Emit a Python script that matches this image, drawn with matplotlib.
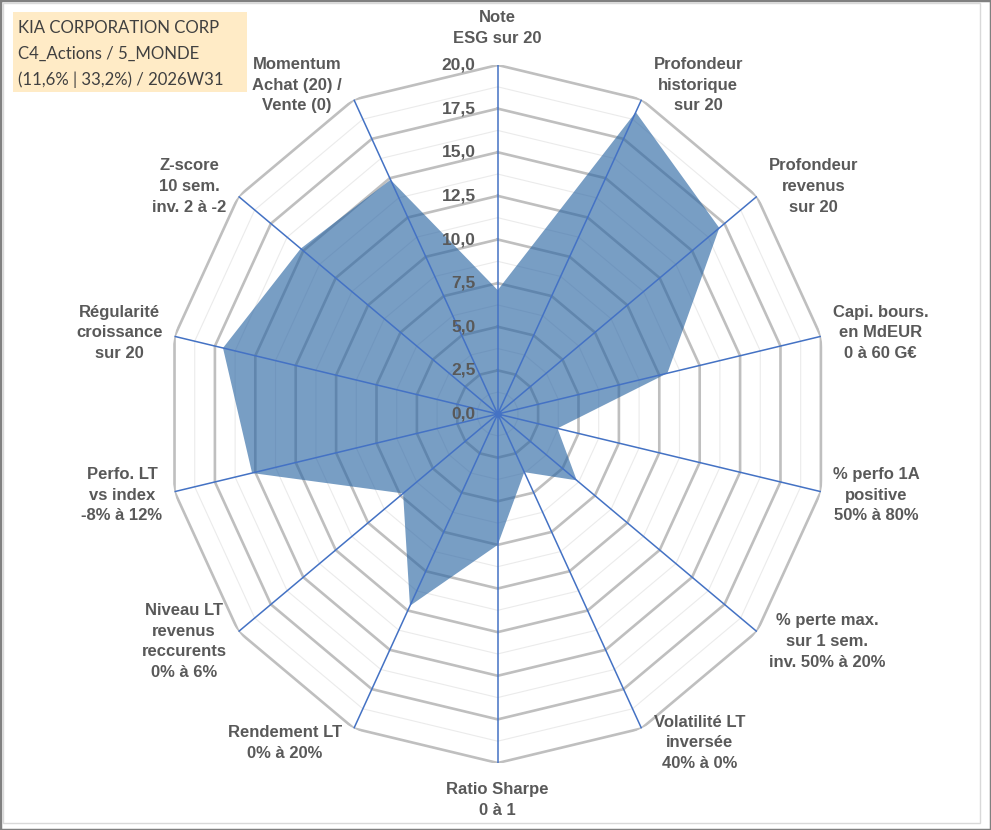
import numpy as np
import matplotlib
matplotlib.use("Agg")
import matplotlib.pyplot as plt
from matplotlib.patches import Rectangle

# ---------------- data ----------------
categories = [
    "Note\nESG sur 20",
    "Profondeur\nhistorique\nsur 20",
    "Profondeur\nrevenus\nsur 20",
    "Capi. bours.\nen MdEUR\n0 à 60 G€",
    "% perfo 1A\npositive\n50% à 80%",
    "% perte max.\nsur 1 sem.\ninv. 50% à 20%",
    "Volatilité LT\ninversée\n40% à 0%",
    "Ratio Sharpe\n0 à 1",
    "Rendement LT\n0% à 20%",
    "Niveau LT\nrevenus\nreccurents\n0% à 6%",
    "Perfo. LT\nvs index\n-8% à 12%",
    "Régularité\ncroissance\nsur 20",
    "Z-score\n10 sem.\ninv. 2 à -2",
    "Momentum\nAchat (20) /\nVente (0)",
]
values = [7.1, 19.2, 17.1, 10.5, 3.7, 6.1, 3.7, 7.5, 12.2, 7.3, 15.2, 17.0, 15.2, 14.9]
major_levels = [0.0, 2.5, 5.0, 7.5, 10.0, 12.5, 15.0, 17.5, 20.0]
tick_labels = ["0,0", "2,5", "5,0", "7,5", "10,0", "12,5", "15,0", "17,5", "20,0"]
title_lines = ["KIA CORPORATION CORP", "C4_Actions / 5_MONDE", "(11,6% | 33,2%) / 2026W31"]

# ---------------- style ----------------
W, H = 991, 830
LABEL_COLOR = "#595959"
RING_COLOR = "#BFBFBF"
MINOR_COLOR = "#EBEBEB"
SPOKE_COLOR = "#4472C4"
FILL_COLOR = "#2C67A4"
FONT = "Liberation Sans"

fig = plt.figure(figsize=(W / 100, H / 100), dpi=100)
fig.patch.set_facecolor("white")

# polar axes (slightly wider than tall box -> matches reference ellipse)
cx, cy = 497.7, 414.0
rx, ry = 331.5, 349.0
ax = fig.add_axes([(cx - rx) / W, (H - cy - ry) / H, 2 * rx / W, 2 * ry / H],
                  projection="polar")
ax.set_theta_zero_location("N")
ax.set_theta_direction(-1)
ax.set_ylim(0, 20)
ax.set_aspect("auto")
ax.grid(False)
ax.spines["polar"].set_visible(False)
ax.set_xticks([])
ax.set_yticks([])
ax.patch.set_visible(False)

n = len(categories)
theta = np.linspace(0, 2 * np.pi, n, endpoint=False)
theta_c = np.append(theta, theta[0])

# minor rings
step = major_levels[1] - major_levels[0]
for lvl in major_levels[:-1]:
    m = lvl + step / 2
    ax.plot(theta_c, [m] * (n + 1), color=MINOR_COLOR, lw=0.8, zorder=1)
# major rings
for lvl in major_levels[1:]:
    ax.plot(theta_c, [lvl] * (n + 1), color=RING_COLOR, lw=1.9, zorder=2,
            solid_joinstyle="miter")

# data polygon
vals_c = np.append(values, values[0])
ax.fill(theta_c, vals_c, color=FILL_COLOR, alpha=0.64, lw=0, zorder=3)

# spokes
for t in theta:
    ax.plot([t, t], [0, major_levels[-1]], color=SPOKE_COLOR, lw=1.1, zorder=4)
ax.plot([0], [0], "o", ms=4, color=SPOKE_COLOR, zorder=5)

# radial tick labels
for lvl, lab in zip(major_levels, tick_labels):
    ax.annotate(lab, xy=(0, lvl), xytext=(-22, 0), textcoords="offset pixels",
                ha="right", va="center", fontsize=12.5, fontweight="bold",
                color=LABEL_COLOR, family=FONT, zorder=6, annotation_clip=False)

# category labels
rmax = major_levels[-1]
for t, lab in zip(theta, categories):
    s, c = np.sin(t), np.cos(t)
    if abs(s) < 0.05:
        ha = "center"
        va = "bottom" if c > 0 else "top"
        off = (0, 19 if c > 0 else -19)
    else:
        ha = "left" if s > 0 else "right"
        va = "center"
        off = (12 * np.sign(s), 16 * c)
    ax.annotate(lab, xy=(t, rmax), xytext=off, textcoords="offset pixels",
                ha=ha, va=va, multialignment="center", linespacing=1.47,
                fontsize=12, fontweight="bold", color=LABEL_COLOR,
                family=FONT, annotation_clip=False, zorder=6)

# title box
fig.patches.append(Rectangle((12.7 / W, 1 - 91.7 / H), (246.7 - 12.7) / W, 80 / H,
                             transform=fig.transFigure, facecolor="#FFEBC6",
                             edgecolor="none", zorder=0))
for i, line in enumerate(title_lines):
    fig.text(18.5 / W, 1 - (33 + 26.2 * i) / H, line, ha="left", va="baseline",
             fontsize=12.1, family="Lato", color="#404040")

# frames
fig.patches.append(Rectangle((3 / W, 1 - 823 / H), 977 / W, 820 / H,
                             transform=fig.transFigure, fill=False,
                             edgecolor="#D9D9D9", lw=1))
fig.patches.append(Rectangle((0, 0), 1, 1, transform=fig.transFigure, fill=False,
                             edgecolor="#808080", lw=2.5))

fig.savefig("out.png", dpi=100)
